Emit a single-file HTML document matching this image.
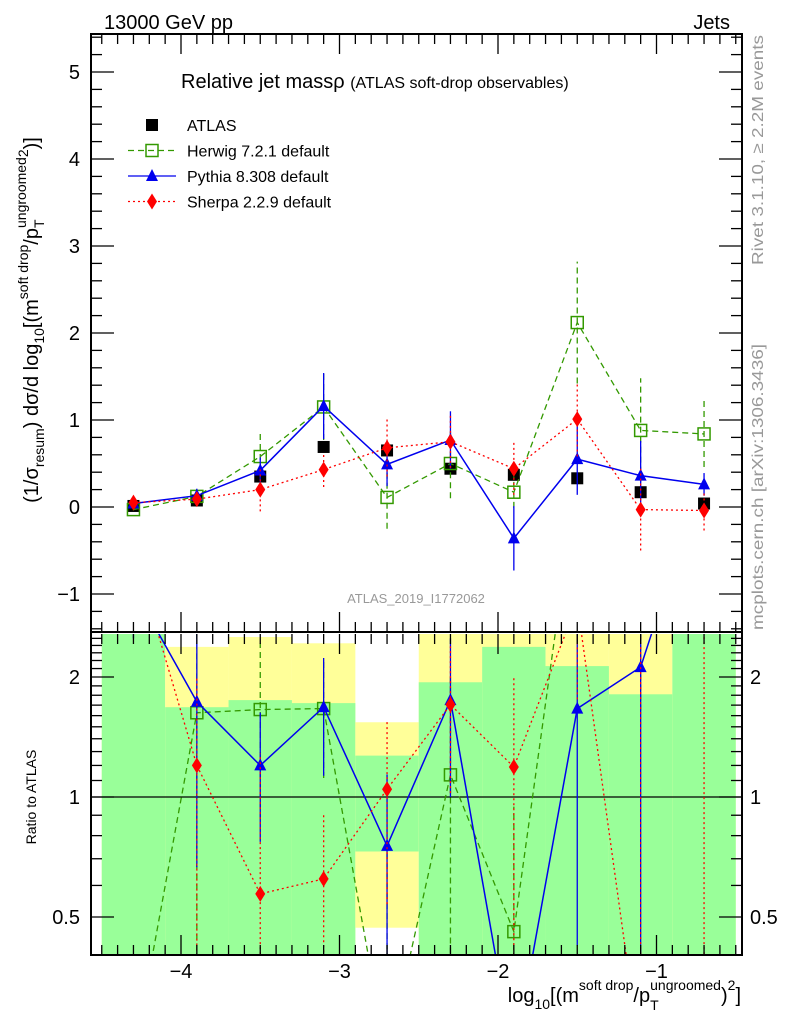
<!DOCTYPE html>
<html><head><meta charset="utf-8"><style>
body{margin:0;background:#fff;overflow:hidden;}
svg{display:block;font-family:"Liberation Sans",sans-serif;}
</style></head><body>
<svg id="c" width="786" height="1024" viewBox="0 0 786 1024">
<defs>
<clipPath id="cm"><rect x="91" y="34" width="651" height="598"/></clipPath>
<clipPath id="cr"><rect x="91" y="634" width="651" height="321"/></clipPath>
</defs>
<g id="bands" clip-path="url(#cr)"></g>
<g id="main" clip-path="url(#cm)"></g>
<g id="ratio" clip-path="url(#cr)"></g>
<g id="axes"></g>
<text x="104" y="29" font-size="20">13000 GeV pp</text>
<text x="730" y="29" font-size="20" text-anchor="end">Jets</text>
<text x="181" y="88" font-size="20">Relative jet massρ <tspan font-size="16">(ATLAS soft-drop observables)</tspan></text>
<text x="416" y="603" font-size="13" fill="#999" text-anchor="middle">ATLAS_2019_I1772062</text>
<text transform="translate(763,150) rotate(-90)" font-size="16" fill="#999" text-anchor="middle" textLength="230" lengthAdjust="spacingAndGlyphs">Rivet 3.1.10, ≥ 2.2M events</text>
<text transform="translate(763,487) rotate(-90)" font-size="16" fill="#999" text-anchor="middle" textLength="286" lengthAdjust="spacingAndGlyphs">mcplots.cern.ch [arXiv:1306.3436]</text>
<text transform="translate(38,320) rotate(-90)" font-size="20" text-anchor="middle">(1/σ<tspan font-size="14" dy="6">resum</tspan><tspan dy="-6">) dσ/d log</tspan><tspan font-size="14" dy="6">10</tspan><tspan dy="-6">[(m</tspan><tspan font-size="14" dy="-10">soft drop</tspan><tspan dy="10">/p</tspan><tspan font-size="14" dy="6">T</tspan><tspan font-size="14" dx="-8" dy="-18">ungroomed</tspan><tspan font-size="14" dy="2">2</tspan><tspan dy="10">)]</tspan></text>
<text transform="translate(36,797) rotate(-90)" font-size="14" text-anchor="middle">Ratio to ATLAS</text>
<text x="741" y="1002" font-size="20" text-anchor="end">log<tspan font-size="14" dy="7">10</tspan><tspan dy="-7">[(m</tspan><tspan font-size="14" dy="-12">soft drop</tspan><tspan dy="12">/p</tspan><tspan font-size="14" dy="8">T</tspan><tspan font-size="14" dx="-8" dy="-20">ungroomed</tspan><tspan dy="12">)</tspan><tspan font-size="14" dy="-12">2</tspan><tspan dy="12">]</tspan></text>
<g id="legend"></g>
</svg>
<script>
const xs=[-4.3,-3.9,-3.5,-3.1,-2.7,-2.3,-1.9,-1.5,-1.1,-0.7];
const atlas=[0.012,0.075,0.35,0.69,0.65,0.44,0.37,0.33,0.17,0.04];
const herwig=[-0.03,0.122,0.58,1.15,0.11,0.5,0.17,2.12,0.88,0.84];
const herwigErr=[0.01,0.1,0.27,0.38,0.36,0.4,0.18,0.7,0.6,0.38];
const pythia=[0.04,0.13,0.42,1.16,0.49,0.77,-0.36,0.55,0.36,0.26];
const pythiaErr=[0.01,0.08,0.15,0.38,0.25,0.33,0.37,0.41,0.4,0.13];
const sherpa=[0.05,0.09,0.2,0.43,0.68,0.75,0.44,1.01,-0.03,-0.04];
const sherpaErr=[0.01,0.06,0.25,0.2,0.33,0.3,0.3,0.43,0.47,0.23];
const greenLo=[0.3,0.3,0.3,0.3,0.73,0.3,0.3,0.3,0.3,0.3];
const greenHi=[3,1.68,1.75,1.72,1.27,1.94,2.38,2.13,1.81,3];
const yellowLo=[0.3,0.3,0.3,0.3,0.47,0.3,0.3,0.3,0.3,0.3];
const yellowHi=[3,2.38,2.52,2.43,1.54,3,3,3,3,3];
const NS='http://www.w3.org/2000/svg';
const X=v=>181+(v+4)*158.5;
const Y=v=>507-v*87;
const R=r=>797-120*Math.log2(Math.max(r,0.22));
function mk(p,tag,a){const e=document.createElementNS(NS,tag);for(const k in a)e.setAttribute(k,a[k]);p.appendChild(e);return e;}
const bands=document.getElementById('bands'),main=document.getElementById('main'),ratio=document.getElementById('ratio'),axes=document.getElementById('axes'),leg=document.getElementById('legend');
xs.forEach((x,i)=>{
 const x0=X(x-0.2),x1=X(x+0.2);
 let e=mk(bands,'rect',{x:x0,y:R(yellowHi[i]),width:x1-x0,height:R(yellowLo[i])-R(yellowHi[i]),fill:'#ffff99'});
 
 
 e=mk(bands,'rect',{x:x0,y:R(greenHi[i]),width:x1-x0,height:R(greenLo[i])-R(greenHi[i]),fill:'#99ff99'});
 
 
});
mk(ratio,'line',{x1:91,x2:742,y1:R(1),y2:R(1),stroke:'#000','stroke-width':1.3});
function marker(g,type,cx,cy,col){
 if(type==='sq')return mk(g,'rect',{x:cx-6,y:cy-6,width:12,height:12,fill:'#000'});
 if(type==='osq')return mk(g,'rect',{x:cx-6,y:cy-6,width:12,height:12,fill:'none',stroke:col,'stroke-width':1.5});
 if(type==='tri')return mk(g,'polygon',{points:`${cx},${cy-7} ${cx-6},${cy+5} ${cx+6},${cy+5}`,fill:col});
 return mk(g,'polygon',{points:`${cx},${cy-8} ${cx-5},${cy} ${cx},${cy+8} ${cx+5},${cy}`,fill:col});
}
const series=[
 {name:'herwig',vals:herwig,err:herwigErr,col:'#339900',dash:'6,4',m:'osq',w:1.3},
 {name:'pythia',vals:pythia,err:pythiaErr,col:'#0000ee',dash:'',m:'tri',w:1.5},
 {name:'sherpa',vals:sherpa,err:sherpaErr,col:'#ff0000',dash:'2,3',m:'dia',w:1.3}];
xs.forEach((x,i)=>{const m=marker(main,'sq',X(x),Y(atlas[i]));
 
 });
series.forEach(s=>{
 const g=mk(main,'g',{});
 
 
 const gr=mk(ratio,'g',{});
 
 
 xs.forEach((x,i)=>{
  const a={x1:X(x),x2:X(x),y1:Y(s.vals[i]-s.err[i]),y2:Y(s.vals[i]+s.err[i]),stroke:s.col,'stroke-width':1.3};
  if(s.dash)a['stroke-dasharray']=s.dash;
  mk(g,'line',a);
  const r=s.vals[i]/atlas[i],re=s.err[i]/atlas[i];
  if(r+re>0.3 && (r>0 || s.name==='sherpa')){const b=Object.assign({},a,{y1:R(r-re),y2:R(r+re)});
  mk(gr,'line',b);}
 });
 const pa={points:xs.map((x,i)=>X(x)+','+Y(s.vals[i])).join(' '),fill:'none',stroke:s.col,'stroke-width':s.w};
 if(s.dash)pa['stroke-dasharray']=s.dash;
 mk(g,'polyline',pa);
 const pr=Object.assign({},pa,{points:xs.map((x,i)=>X(x)+','+R(s.vals[i]/atlas[i])).join(' ')});
 mk(gr,'polyline',pr);
 xs.forEach((x,i)=>{marker(g,s.m,X(x),Y(s.vals[i]),s.col);
  const r=s.vals[i]/atlas[i]; if(r>0.3&&r<3) marker(gr,s.m,X(x),R(r),s.col);});
});
mk(axes,'rect',{x:91,y:34,width:651,height:598,fill:'none',stroke:'#000','stroke-width':2});
mk(axes,'rect',{x:91,y:632,width:651,height:323,fill:'none',stroke:'#000','stroke-width':2});
function tick(x1,y1,x2,y2){mk(axes,'line',{x1,y1,x2,y2,stroke:'#000','stroke-width':1.3});}
for(let k=-7;k<=27;k++){const v=k/5,y=Y(v);if(y<35||y>631)continue;const L=k%5===0?23:11;tick(91,y,91+L,y);tick(742,y,742-L,y);}
[-1,0,1,2,3,4,5].forEach(v=>{const t=mk(axes,'text',{x:80,y:Y(v)+7,'font-size':20,'text-anchor':'end'});t.textContent=v===-1?'−1':String(v);});
for(let k=-46;k<=-5;k++){const v=k/10,x=X(v);if(x<92||x>741)continue;const L=k%10===0?20:10;
 tick(x,34,x,34+L);tick(x,632,x,632-L);tick(x,634,x,634+L);tick(x,955,x,955-L);}
[-4,-3,-2,-1].forEach(v=>{const t=mk(axes,'text',{x:X(v),y:978,'font-size':20,'text-anchor':'middle'});t.textContent='−'+(-v);});
for(let k=4;k<=25;k++){const r=k/10,y=R(r);if(y<634||y>954)continue;const maj=(k===5||k===10||k===20);const L=maj?23:11;tick(91,y,91+L,y);tick(742,y,742-L,y);}
[[2,'2'],[1,'1'],[0.5,'0.5']].forEach(([r,s])=>{let t=mk(axes,'text',{x:80,y:R(r)+7,'font-size':20,'text-anchor':'end'});t.textContent=s;
 t=mk(axes,'text',{x:750,y:R(r)+7,'font-size':20});t.textContent=s;});
const lg=[['ATLAS','#000','','sq'],['Herwig 7.2.1 default','#339900','6,4','osq'],['Pythia 8.308 default','#0000ee','','tri'],['Sherpa 2.2.9 default','#ff0000','2,3','dia']];
lg.forEach((l,i)=>{const y=125+i*25.5;const g=mk(leg,'g',{});
 
 
 if(i>0){const a={x1:128,x2:176,y1:y,y2:y,stroke:l[1],'stroke-width':1.3};if(l[2])a['stroke-dasharray']=l[2];mk(g,'line',a);}
 marker(g,l[3],152,y,l[1]);
 const t=mk(g,'text',{x:187,y:y+6,'font-size':16});t.textContent=l[0];});
</script>
</body></html>
